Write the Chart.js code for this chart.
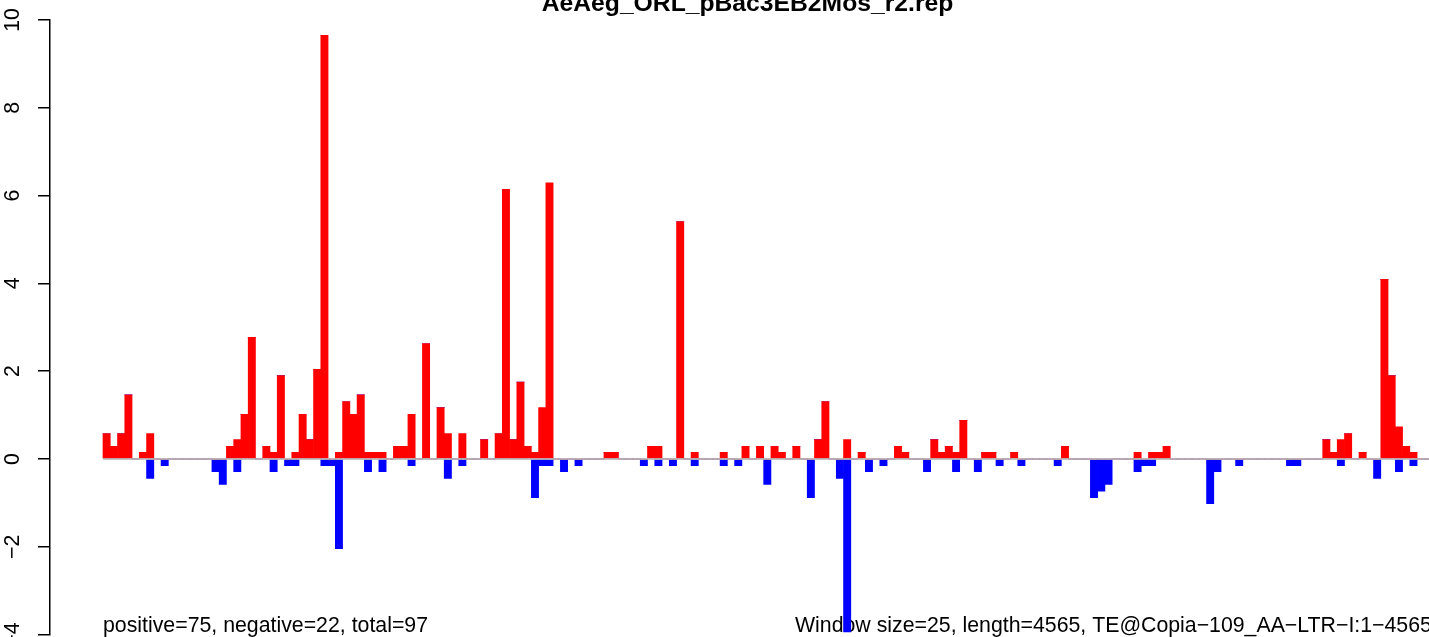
<!DOCTYPE html>
<html>
<head>
<meta charset="utf-8">
<title>AeAeg_ORL_pBac3EB2Mos_r2.rep</title>
<script src="https://cdn.jsdelivr.net/npm/chart.js@4.4.1/dist/chart.umd.min.js"></script>
<style>
  html, body { margin: 0; padding: 0; background: #fff; overflow: hidden; }
  #wrap { position: relative; width: 1429px; height: 637px; }
</style>
</head>
<body>
<div id="wrap"><canvas id="coverageChart" width="1429" height="637"></canvas></div>
<script>
const chartTitle = 'AeAeg_ORL_pBac3EB2Mos_r2.rep';
const leftNote = 'positive=75, negative=22, total=97';
const rightNote = 'Window size=25, length=4565, TE@Copia\u2212109_AA\u2212LTR\u2212I:1\u22124565';

const yTicks = [-4, -2, 0, 2, 4, 6, 8, 10];
const yTickLabels = ['\u22124', '\u22122', '0', '2', '4', '6', '8', '10'];

// one value per 25 bp window (183 windows)
const positiveValues = [
  0.58, 0.29, 0.58, 1.46, 0, 0.15, 0.58, 0, 0, 0,
  0, 0, 0, 0, 0, 0, 0, 0.29, 0.44, 1.02,
  2.77, 0, 0.29, 0.15, 1.90, 0, 0.15, 1.02, 0.44, 2.04,
  9.65, 0, 0.15, 1.31, 1.02, 1.46, 0.15, 0.15, 0.15, 0,
  0.29, 0.29, 1.02, 0, 2.63, 0, 1.17, 0.58, 0, 0.58,
  0, 0, 0.44, 0, 0.58, 6.14, 0.44, 1.75, 0.29, 0.15,
  1.17, 6.29, 0, 0, 0, 0, 0, 0, 0, 0.15,
  0.15, 0, 0, 0, 0, 0.29, 0.29, 0, 0, 5.41,
  0, 0.15, 0, 0, 0, 0.15, 0, 0, 0.29, 0,
  0.29, 0, 0.29, 0.15, 0, 0.29, 0, 0, 0.44, 1.31,
  0, 0, 0.44, 0, 0.15, 0, 0, 0, 0, 0.29,
  0.15, 0, 0, 0, 0.44, 0.15, 0.29, 0.15, 0.88, 0,
  0, 0.15, 0.15, 0, 0, 0.15, 0, 0, 0, 0,
  0, 0, 0.29, 0, 0, 0, 0, 0, 0, 0,
  0, 0, 0.15, 0, 0.15, 0.15, 0.29, 0, 0, 0,
  0, 0, 0, 0, 0, 0, 0, 0, 0, 0,
  0, 0, 0, 0, 0, 0, 0, 0, 0.44, 0.15,
  0.44, 0.58, 0, 0.15, 0, 0, 4.09, 1.90, 0.73, 0.29,
  0.15, 0, 0
];

const negativeValues = [
  0, 0, 0, 0, 0, 0, -0.44, 0, -0.15, 0,
  0, 0, 0, 0, 0, -0.29, -0.58, 0, -0.29, 0,
  0, 0, 0, -0.29, 0, -0.15, -0.15, 0, 0, 0,
  -0.15, -0.15, -2.04, 0, 0, 0, -0.29, 0, -0.29, 0,
  0, 0, -0.15, 0, 0, 0, 0, -0.44, 0, -0.15,
  0, 0, 0, 0, 0, 0, 0, 0, 0, -0.88,
  -0.15, -0.15, 0, -0.29, 0, -0.15, 0, 0, 0, 0,
  0, 0, 0, 0, -0.15, 0, -0.15, 0, -0.15, 0,
  0, -0.15, 0, 0, 0, -0.15, 0, -0.15, 0, 0,
  0, -0.58, 0, 0, 0, 0, 0, -0.88, 0, 0,
  0, -0.44, -3.94, 0, 0, -0.29, 0, -0.15, 0, 0,
  0, 0, 0, -0.29, 0, 0, 0, -0.29, 0, 0,
  -0.29, 0, 0, -0.15, 0, 0, -0.15, 0, 0, 0,
  0, -0.15, 0, 0, 0, 0, -0.88, -0.73, -0.58, 0,
  0, 0, -0.29, -0.15, -0.15, 0, 0, 0, 0, 0,
  0, 0, -1.02, -0.29, 0, 0, -0.15, 0, 0, 0,
  0, 0, 0, -0.15, -0.15, 0, 0, 0, 0, 0,
  -0.15, 0, 0, 0, 0, -0.44, 0, 0, -0.29, 0,
  -0.15, 0, 0
];

const fontFamily = '"Liberation Sans", Arial, Helvetica, sans-serif';

// title, footer notes and the zero line
const annotationLayer = {
  id: 'annotationLayer',
  beforeDatasetsDraw(chart) {
    const ctx = chart.ctx;
    ctx.save();
    ctx.fillStyle = '#000';
    ctx.font = '21.3px ' + fontFamily;
    ctx.textBaseline = 'alphabetic';
    ctx.textAlign = 'left';
    ctx.fillText(leftNote, 103, 632);
    ctx.fillText(rightNote, 795, 632);
    ctx.restore();
  },
  afterDatasetsDraw(chart) {
    const ctx = chart.ctx;
    const xScale = chart.scales.x;
    const yScale = chart.scales.y;
    const y0 = yScale.getPixelForValue(0);
    ctx.save();
    ctx.strokeStyle = '#b0b0b0';
    ctx.lineWidth = 1.3;
    ctx.beginPath();
    ctx.moveTo(xScale.getPixelForValue(-0.5), y0);
    ctx.lineTo(chart.chartArea.right, y0);
    ctx.stroke();

    ctx.fillStyle = '#000';
    ctx.font = 'bold 24.7px ' + fontFamily;
    ctx.textAlign = 'center';
    ctx.textBaseline = 'alphabetic';
    ctx.fillText(chartTitle, 747.5, 11);
    ctx.restore();
  }
};

const canvas = document.getElementById('coverageChart');

new Chart(canvas, {
  type: 'bar',
  data: {
    datasets: [{
      label: 'positive',
      data: positiveValues.map((v, i) => ({ x: i, y: v })),
      backgroundColor: '#ff0000',
      borderWidth: 0,
      barPercentage: 1,
      categoryPercentage: 1,
      stack: 'strand'
    },
    {
      label: 'negative',
      data: negativeValues.map((v, i) => ({ x: i, y: v })),
      backgroundColor: '#0000ff',
      borderWidth: 0,
      barPercentage: 1,
      categoryPercentage: 1,
      stack: 'strand'
    }]
  },
  options: {
    responsive: false,
    animation: false,
    devicePixelRatio: 1,
    layout: { padding: { left: 0, right: 0, top: 20, bottom: 2.4 } },
    plugins: {
      legend: { display: false },
      tooltip: { enabled: false },
      title: { display: false }
    },
    scales: {
      x: {
        type: 'linear',
        min: -7.8,
        max: 182.14,
        offset: false,
        stacked: true,
        display: false
      },
      y: {
        min: -4,
        max: 10,
        stacked: true,
        afterBuildTicks(scale) {
          scale.ticks = yTicks.map(v => ({ value: v }));
        },
        afterFit(scale) {
          scale.width = 50;
          scale.paddingTop = 0;
          scale.paddingBottom = 0;
        },
        ticks: {
          minRotation: 90,
          maxRotation: 90,
          crossAlign: 'center',
          padding: 13,
          color: '#000',
          font: { family: fontFamily, size: 21.3 },
          callback: (value, index) => yTickLabels[index]
        },
        grid: {
          drawOnChartArea: false,
          drawTicks: true,
          tickLength: 12,
          color: '#000',
          lineWidth: 1.5
        },
        border: { display: true, color: '#000', width: 1.5 }
      }
    }
  },
  plugins: [annotationLayer]
});
</script>
</body>
</html>
